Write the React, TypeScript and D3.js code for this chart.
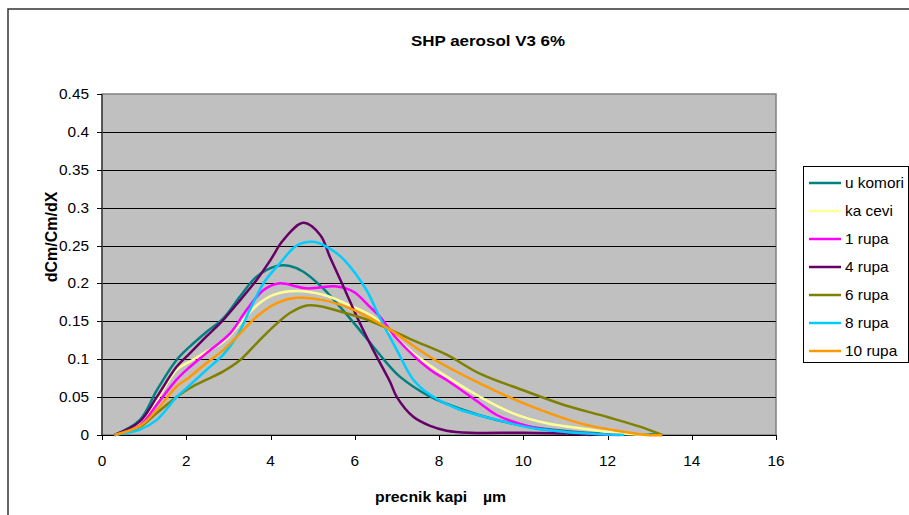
import React from 'react';
import * as d3 from 'd3';

// dCm/Cm/dX po precniku kapi, procitano sa slike
const uKomori = [[0.3, 0], [0.9, 0.02], [1.3, 0.059], [1.77, 0.099], [2.09, 0.117], [2.48, 0.136], [2.88, 0.154], [3.28, 0.183], [3.67, 0.209], [4.15, 0.223], [4.46, 0.223], [4.78, 0.2155], [5.25, 0.1935], [5.65, 0.169], [6.05, 0.143], [6.44, 0.1165], [6.84, 0.09], [7.07, 0.077], [7.79, 0.0505], [8.58, 0.033], [9.37, 0.0198], [10.16, 0.011], [10.95, 0.0057], [11.74, 0.0022], [12.9, 0.001], [13.3, 0]];
const kaCevi = [[0.3, 0], [0.9, 0.015], [1.3, 0.046], [1.77, 0.086], [2.09, 0.097], [2.48, 0.11], [2.88, 0.123], [3.28, 0.147], [3.67, 0.171], [4.07, 0.185], [4.62, 0.19], [5.25, 0.185], [5.89, 0.171], [6.44, 0.156], [6.84, 0.136], [7.39, 0.108], [8.18, 0.077], [8.97, 0.0505], [9.76, 0.0286], [10.56, 0.0154], [11.35, 0.0088], [12.14, 0.003], [12.6, 0.001], [13.0, 0]];
const rupa1 = [[0.3, 0], [0.9, 0.013], [1.3, 0.04], [1.77, 0.073], [2.09, 0.09], [2.48, 0.108], [3.04, 0.134], [3.43, 0.165], [3.83, 0.191], [4.19, 0.2], [4.86, 0.1935], [5.57, 0.196], [5.97, 0.189], [6.36, 0.169], [6.6, 0.156], [7.0, 0.127], [7.79, 0.086], [8.18, 0.0726], [8.97, 0.042], [9.37, 0.0264], [10.16, 0.011], [10.95, 0.0044], [11.8, 0.001], [12.3, 0]];
const rupa4 = [[0.3, 0], [0.9, 0.018], [1.3, 0.05], [1.77, 0.09], [2.09, 0.108], [2.48, 0.13], [2.88, 0.152], [3.28, 0.178], [3.67, 0.2045], [4.0, 0.231], [4.3, 0.257], [4.78, 0.28], [5.18, 0.264], [5.41, 0.235], [5.73, 0.196], [6.05, 0.156], [6.44, 0.112], [6.84, 0.07], [7.0, 0.05], [7.39, 0.024], [7.79, 0.012], [8.18, 0.0057], [8.74, 0.003], [10.0, 0.003], [11.0, 0.002], [11.6, 0]];
const rupa6 = [[0.3, 0], [0.9, 0.011], [1.3, 0.029], [1.77, 0.05], [2.09, 0.062], [2.48, 0.073], [2.88, 0.084], [3.28, 0.099], [3.67, 0.121], [4.07, 0.143], [4.46, 0.161], [4.86, 0.171], [5.18, 0.17], [5.65, 0.163], [6.2, 0.154], [6.6, 0.145], [7.39, 0.125], [8.18, 0.106], [8.97, 0.081], [10.0, 0.059], [10.95, 0.04], [11.98, 0.024], [12.77, 0.011], [13.3, 0]];
const rupa8 = [[0.3, 0], [0.9, 0.007], [1.3, 0.02], [1.77, 0.05], [2.09, 0.066], [2.48, 0.086], [2.88, 0.106], [3.2, 0.13], [3.51, 0.165], [3.83, 0.2], [4.23, 0.227], [4.62, 0.25], [5.02, 0.255], [5.41, 0.246], [5.73, 0.232], [6.28, 0.191], [6.6, 0.154], [7.0, 0.112], [7.39, 0.073], [7.79, 0.053], [8.42, 0.035], [9.37, 0.02], [10.16, 0.0097], [10.95, 0.0044], [11.74, 0.0013], [12.4, 0]];
const rupa10 = [[0.3, 0], [0.9, 0.012], [1.3, 0.033], [1.77, 0.064], [2.09, 0.077], [2.48, 0.095], [2.88, 0.112], [3.28, 0.134], [3.67, 0.156], [4.15, 0.174], [4.62, 0.181], [5.25, 0.178], [5.89, 0.167], [6.44, 0.152], [6.84, 0.139], [7.79, 0.103], [8.97, 0.068], [10.0, 0.042], [11.35, 0.0154], [12.14, 0.0066], [12.93, 0], [13.3, 0]];

const seriesNames = ['u komori', 'ka cevi', '1 rupa', '4 rupa', '6 rupa', '8 rupa', '10 rupa'];
const seriesData = [uKomori, kaCevi, rupa1, rupa4, rupa6, rupa8, rupa10];
const seriesColors = ['#008080', '#FFFF99', '#FF00FF', '#660066', '#808000', '#00CCFF', '#FF9900'];

const xTicks = [0, 2, 4, 6, 8, 10, 12, 14, 16];
const yTicks = [0, 0.05, 0.1, 0.15, 0.2, 0.25, 0.3, 0.35, 0.4, 0.45];

const FONT = 'Arial, "Liberation Sans", sans-serif';
const SX = 1.1; // slika je malo razvucena vodoravno

function T({ x, y, size, bold = false, anchor = 'start', sx = SX, rotate = 0, children }: any) {
  return (
    <text
      transform={`translate(${x},${y}) rotate(${rotate}) scale(${sx},1)`}
      fontFamily={FONT}
      fontSize={size}
      fontWeight={bold ? 'bold' : 'normal'}
      textAnchor={anchor}
      fill="#000"
    >
      {children}
    </text>
  );
}

export default function App() {
  const left = 102, right = 776, top = 94, bottom = 435;
  const x = d3.scaleLinear().domain([0, 16]).range([left, right]);
  const y = d3.scaleLinear().domain([0, 0.45]).range([bottom, top]);

  const line = d3
    .line<number[]>()
    .x((d) => x(d[0]))
    .y((d) => y(d[1]))
    .curve(d3.curveCatmullRom.alpha(0.5));

  return (
    <svg width={909} height={515} style={{ position: 'absolute', left: 0, top: 0, background: '#fff' }}>
      {/* okvir grafikona */}
      <rect x={8} y={9} width={1000} height={600} fill="#fff" stroke="#333" strokeWidth={1.5} />

      <T x={488} y={46} size={15} bold anchor="middle" sx={1.13}>SHP aerosol V3 6%</T>

      {/* podrucje crtanja */}
      <rect x={left} y={top} width={right - left} height={bottom - top} fill="#C0C0C0" stroke="#808080" strokeWidth={1.5} />
      {yTicks.slice(1, -1).map((t) => (
        <line key={'g' + t} x1={left} x2={right} y1={Math.round(y(t)) + 0.5} y2={Math.round(y(t)) + 0.5} stroke="#000" strokeWidth={1} />
      ))}

      {/* osa Y */}
      <line x1={left} x2={left} y1={top} y2={bottom} stroke="#404040" strokeWidth={1.5} />
      {yTicks.map((t) => (
        <g key={'y' + t}>
          <line x1={left - 5} x2={left} y1={Math.round(y(t)) + 0.5} y2={Math.round(y(t)) + 0.5} stroke="#000" />
          <T x={89} y={y(t) + 5} size={14} anchor="end">{String(t)}</T>
        </g>
      ))}

      {/* osa X */}
      <line x1={left} x2={right} y1={bottom + 0.5} y2={bottom + 0.5} stroke="#000" strokeWidth={1} />
      {xTicks.map((t) => (
        <g key={'x' + t}>
          <line x1={Math.round(x(t)) + 0.5} x2={Math.round(x(t)) + 0.5} y1={bottom} y2={bottom + 5} stroke="#000" />
          <T x={x(t)} y={466} size={14} anchor="middle">{String(t)}</T>
        </g>
      ))}

      {/* krive */}
      {seriesData.map((s, i) => (
        <path key={seriesNames[i]} d={line(s) || ''} fill="none" stroke={seriesColors[i]} strokeWidth={2.5} strokeLinejoin="round" />
      ))}

      {/* nazivi osa */}
      <T x={375} y={502} size={14} bold sx={1.13}>precnik kapi</T>
      <T x={483} y={502} size={14} bold sx={1.13}>µm</T>
      <T x={57} y={237} size={16} bold anchor="middle" rotate={-90} sx={1}>dCm/Cm/dX</T>

      {/* legenda */}
      <rect x={803.5} y={166.5} width={105} height={196} fill="#fff" stroke="#000" strokeWidth={1} />
      {seriesNames.map((n, i) => (
        <g key={'l' + n}>
          <line x1={809} x2={841} y1={183 + i * 28} y2={183 + i * 28} stroke={seriesColors[i]} strokeWidth={2.5} />
          <T x={845} y={188 + i * 28} size={14}>{n}</T>
        </g>
      ))}
    </svg>
  );
}
